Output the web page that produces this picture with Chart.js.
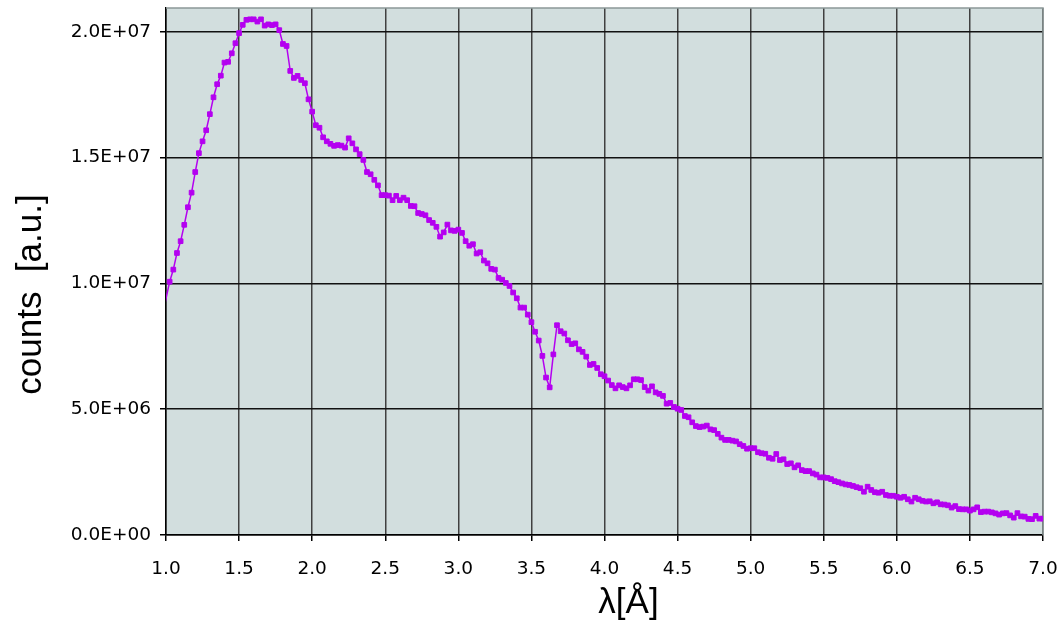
<!DOCTYPE html>
<html>
<head>
<meta charset="utf-8">
<script src="https://cdn.jsdelivr.net/npm/chart.js@4/dist/chart.umd.min.js"></script>
<style>
  html, body { margin: 0; padding: 0; background: #fff; }
</style>
</head>
<body>
<canvas id="spectrum" width="1061" height="625"></canvas>
<script>
// wavelength grid of the spectrum (Å)
const lambdaStart = 0.975;
const lambdaStep = 0.025;

// counts per bin, in units of 1e6, one row per 0.5 Å
const counts = [
  8.70,
  9.40, 10.07, 10.55, 11.21, 11.68, 12.33, 13.03, 13.61, 14.43, 15.18, 15.65, 16.09, 16.73, 17.40, 17.92, 18.26, 18.78, 18.81, 19.15, 19.55,
  19.95, 20.28, 20.48, 20.50, 20.50, 20.41, 20.50, 20.25, 20.30, 20.27, 20.30, 20.07, 19.52, 19.44, 18.45, 18.17, 18.25, 18.09, 17.96, 17.32,
  16.83, 16.29, 16.19, 15.81, 15.65, 15.55, 15.47, 15.50, 15.48, 15.40, 15.77, 15.57, 15.33, 15.14, 14.91, 14.43, 14.34, 14.12, 13.90, 13.51,
  13.51, 13.49, 13.31, 13.48, 13.31, 13.41, 13.31, 13.08, 13.07, 12.80, 12.76, 12.71, 12.52, 12.41, 12.25, 11.86, 12.03, 12.34, 12.11, 12.09,
  12.14, 12.01, 11.68, 11.50, 11.56, 11.19, 11.24, 10.91, 10.80, 10.58, 10.55, 10.22, 10.15, 10.02, 9.90, 9.64, 9.41, 9.04, 9.04, 8.76,
  8.46, 8.08, 7.73, 7.12, 6.26, 5.87, 7.18, 8.34, 8.10, 8.01, 7.74, 7.59, 7.62, 7.38, 7.28, 7.09, 6.76, 6.80, 6.64, 6.39,
  6.31, 6.14, 5.96, 5.83, 5.95, 5.88, 5.83, 5.95, 6.19, 6.19, 6.16, 5.88, 5.74, 5.91, 5.67, 5.61, 5.53, 5.22, 5.25, 5.09,
  5.02, 4.97, 4.73, 4.68, 4.48, 4.33, 4.29, 4.31, 4.35, 4.20, 4.17, 4.02, 3.87, 3.78, 3.78, 3.75, 3.72, 3.61, 3.54, 3.43,
  3.45, 3.45, 3.29, 3.25, 3.23, 3.07, 3.03, 3.22, 2.98, 3.01, 2.82, 2.85, 2.69, 2.77, 2.58, 2.54, 2.54, 2.45, 2.40, 2.29,
  2.29, 2.27, 2.22, 2.14, 2.10, 2.05, 2.01, 1.99, 1.95, 1.90, 1.86, 1.72, 1.92, 1.79, 1.70, 1.68, 1.72, 1.59, 1.56, 1.56,
  1.52, 1.48, 1.52, 1.42, 1.33, 1.48, 1.42, 1.36, 1.33, 1.34, 1.26, 1.30, 1.22, 1.21, 1.18, 1.09, 1.15, 1.03, 1.02, 1.02,
  0.97, 1.02, 1.10, 0.91, 0.93, 0.93, 0.90, 0.86, 0.81, 0.86, 0.87, 0.78, 0.69, 0.87, 0.74, 0.73, 0.64, 0.63, 0.76, 0.65,
  0.65, 0.64
];
const countUnit = 1e6;

const xTicks = [1.0, 1.5, 2.0, 2.5, 3.0, 3.5, 4.0, 4.5, 5.0, 5.5, 6.0, 6.5, 7.0];
const yTicks = [0, 5e6, 1e7, 1.5e7, 2e7];

const xTitle = 'λ[Å]';
const yTitle = 'counts  [a.u.]';

const lineColor = '#b400f0';
const tickFont = { family: '"DejaVu Sans", Verdana, sans-serif', size: 18.5 };

const points = counts.map((c, i) => ({
  x: +(lambdaStart + i * lambdaStep).toFixed(3),
  y: c * countUnit
}));

// 2.0E+07 style labels
function sci(v) {
  const [m, e] = v.toExponential(1).split('e');
  const n = Math.abs(parseInt(e, 10));
  return m + 'E' + (e[0] === '-' ? '-' : '+') + String(n).padStart(2, '0');
}

const plotFrame = {
  id: 'plotFrame',
  beforeDraw(chart) {
    const { ctx, chartArea: a } = chart;
    ctx.save();
    ctx.fillStyle = '#d2dede';
    ctx.fillRect(a.left, a.top, a.right - a.left, a.bottom - a.top);
    ctx.restore();
  },
  beforeDatasetsDraw(chart) {
    const { ctx, chartArea: a } = chart;
    ctx.save();
    ctx.strokeStyle = '#8c9898';
    ctx.lineWidth = 1.5;
    ctx.beginPath();
    ctx.moveTo(a.left, a.top);
    ctx.lineTo(a.right, a.top);
    ctx.lineTo(a.right, a.bottom);
    ctx.stroke();
    ctx.restore();
  },
  afterDraw(chart) {
    const { ctx, chartArea: a } = chart;
    ctx.save();
    ctx.fillStyle = '#000';
    ctx.font = '35px "Liberation Sans", Arial, sans-serif';
    ctx.textAlign = 'center';
    ctx.textBaseline = 'middle';
    ctx.fillText(xTitle, (a.left + a.right) / 2 + 24, 603);
    ctx.translate(31, (a.top + a.bottom) / 2 + 23);
    ctx.rotate(-Math.PI / 2);
    ctx.fillText(yTitle, 0, 0);
    ctx.restore();
  }
};

new Chart(document.getElementById('spectrum'), {
  type: 'line',
  data: {
    datasets: [{
      data: points,
      borderColor: lineColor,
      backgroundColor: lineColor,
      borderWidth: 1.5,
      pointStyle: 'rect',
      pointRadius: ctx => (ctx.raw && ctx.raw.x > 1.0 && ctx.raw.x <= 7.0) ? 3.3 : 0,
      pointBorderWidth: 1,
      pointBorderColor: lineColor,
      pointBackgroundColor: lineColor,
      tension: 0,
      fill: false
    }]
  },
  options: {
    responsive: false,
    animation: false,
    devicePixelRatio: 1,
    layout: { padding: { top: 8, right: 18, left: 0, bottom: 0 } },
    plugins: {
      legend: { display: false },
      tooltip: { enabled: false }
    },
    scales: {
      x: {
        type: 'linear',
        min: 1.0,
        max: 7.0,
        afterBuildTicks: s => { s.ticks = xTicks.map(v => ({ value: v })); },
        afterFit: s => { s.height = 90; s.paddingLeft = 0; s.paddingRight = 0; },
        ticks: {
          color: '#000',
          font: tickFont,
          padding: 17,
          maxRotation: 0,
          callback: v => v.toFixed(1)
        },
        grid: { color: '#404040', lineWidth: 1.5, tickLength: 6, tickColor: '#000' },
        border: { color: '#000', width: 1.5 }
      },
      y: {
        type: 'linear',
        min: 0,
        max: 2.095e7,
        afterBuildTicks: s => { s.ticks = yTicks.map(v => ({ value: v })); },
        afterFit: s => { s.width = 166; s.paddingTop = 0; s.paddingBottom = 0; },
        ticks: {
          color: '#000',
          font: tickFont,
          padding: 9,
          callback: v => sci(v)
        },
        grid: { color: '#111', lineWidth: 1.5, tickLength: 6, tickColor: '#000' },
        border: { color: '#000', width: 1.5 }
      }
    }
  },
  plugins: [plotFrame]
});
</script>
</body>
</html>
